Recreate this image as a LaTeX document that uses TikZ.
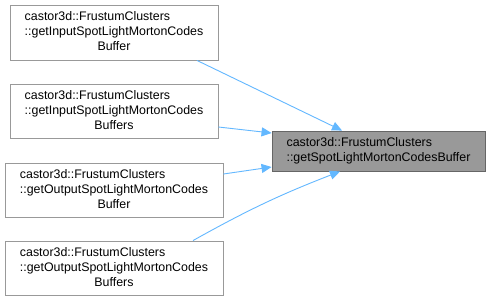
\documentclass[tikz,border=0pt]{standalone}
\usepackage{fontspec}
\setmainfont{Liberation Sans}
\usetikzlibrary{arrows.meta}
\definecolor{edgeblue}{HTML}{63B8FF}
\definecolor{boxborder}{HTML}{999999}
\definecolor{focusfill}{HTML}{999999}
\definecolor{focusborder}{HTML}{666666}
\tikzset{
  fnbox/.style={draw=boxborder, fill=white, line width=0.9pt, inner sep=0pt,
    font=\fontsize{12.4}{15}\selectfont},
  focusbox/.style={fnbox, draw=focusborder, fill=focusfill},
  calledge/.style={draw=edgeblue, line width=0.9pt,
    -{Stealth[length=10pt, width=9pt, inset=0pt]}}
}
\newcommand{\fnlabel}[3]{\renewcommand{\arraystretch}{1.0}\begin{tabular}{@{}l@{}}#1\\#2\\\multicolumn{1}{@{}c@{}}{#3}\end{tabular}}
\begin{document}
\begin{tikzpicture}[x=1pt, y=-1pt]
  \useasboundingbox[fill=white] (0,0) rectangle (491,301);
  \node[fnbox, minimum width=208pt, minimum height=55pt] (b1) at (114,32.5)
    {\fnlabel{castor3d::FrustumClusters}{::getInputSpotLightMortonCodes}{Buffer}};
  \node[fnbox, minimum width=208pt, minimum height=54pt] (b2) at (114,111)
    {\fnlabel{castor3d::FrustumClusters}{::getInputSpotLightMortonCodes}{Buffers}};
  \node[fnbox, minimum width=218pt, minimum height=54pt] (b3) at (114,190)
    {\fnlabel{castor3d::FrustumClusters}{::getOutputSpotLightMortonCodes}{Buffer}};
  \node[fnbox, minimum width=218pt, minimum height=54pt] (b4) at (114,268)
    {\fnlabel{castor3d::FrustumClusters}{::getOutputSpotLightMortonCodes}{Buffers}};
  \node[focusbox, minimum width=213pt, minimum height=40pt, align=left] (t) at (378.5,151)
    {castor3d::FrustumClusters\\::getSpotLightMortonCodesBuffer};
  \draw[calledge] ([xshift=83pt]b1.south) -- ([xshift=-36.5pt]t.north);
  \draw[calledge] ([yshift=-16pt]b2.east) -- ([yshift=18pt]t.west);
  \draw[calledge] ([yshift=16pt]b3.east) -- ([yshift=-16pt]t.west);
  \draw[calledge] ([xshift=79pt]b4.north) to[bend left=4] ([xshift=-38.5pt]t.south);
\end{tikzpicture}
\end{document}
